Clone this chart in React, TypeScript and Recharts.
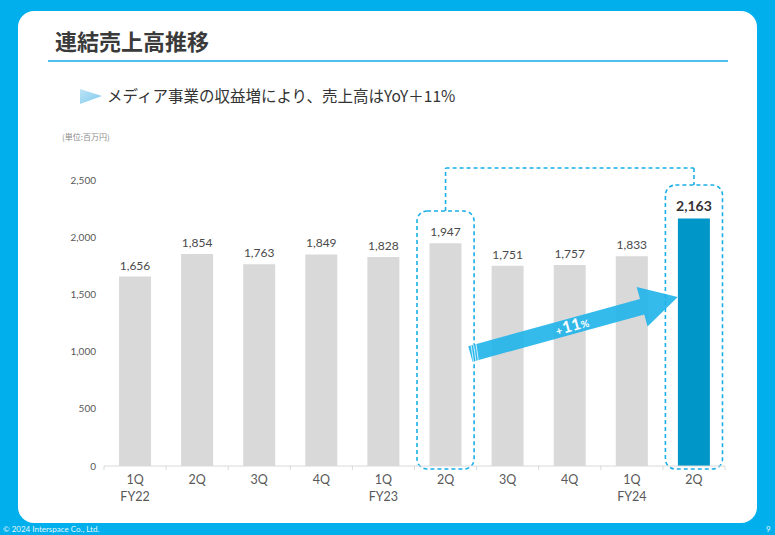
import React from "react";
import {
  BarChart,
  Bar,
  Cell,
  XAxis,
  YAxis,
  LabelList,
  ReferenceArea,
  ReferenceLine,
} from "recharts";

// Quarterly consolidated sales (¥ millions)
const periodKeys = [
  "FY22-1Q", "FY22-2Q", "FY22-3Q", "FY22-4Q",
  "FY23-1Q", "FY23-2Q", "FY23-3Q", "FY23-4Q",
  "FY24-1Q", "FY24-2Q",
];
const quarterLabels = ["1Q", "2Q", "3Q", "4Q", "1Q", "2Q", "3Q", "4Q", "1Q", "2Q"];
const fiscalYearLabels = ["FY22", "", "", "", "FY23", "", "", "", "FY24", ""];
const salesValues = [1656, 1854, 1763, 1849, 1828, 1947, 1751, 1757, 1833, 2163];
const yTicks = [0, 500, 1000, 1500, 2000, 2500];

// YoY comparison: 2Q FY23 -> 2Q FY24
const compareFrom = "FY23-2Q";
const compareTo = "FY24-2Q";
const fromBoxTop = 2229;
const toBoxTop = 2456;
const connectorLevel = 2605;
const arrowStart = 920;
const arrowEnd = 1516;

const data = periodKeys.map((key, i) => ({
  key,
  quarter: quarterLabels[i],
  fy: fiscalYearLabels[i],
  sales: salesValues[i],
}));

const FONT = "Lato, 'Noto Sans CJK JP', sans-serif";
const JP_FONT = "'Noto Sans CJK JP', sans-serif";
const BLUE_BG = "#00AFEB";
const DASH_BLUE = "#1AAFE8";

function QuarterTick(props: any) {
  const { x, y, payload, index } = props;
  const half = payload?.offset ?? 31;
  const item = data[index] ?? data.find((d) => d.key === payload.value);
  return (
    <g>
      <line x1={x - half} y1={y} x2={x - half} y2={y + 4} stroke="#D9D9D9" />
      {index === data.length - 1 && (
        <line x1={x + half} y1={y} x2={x + half} y2={y + 4} stroke="#D9D9D9" />
      )}
      <text x={x} y={y + 18} textAnchor="middle" fontSize={12.5} fill="#595959" fontFamily={FONT}>
        {item?.quarter}
      </text>
      {item?.fy && (
        <text x={x} y={y + 35} textAnchor="middle" fontSize={12.5} fill="#595959" fontFamily={FONT}>
          {item.fy}
        </text>
      )}
    </g>
  );
}

function ValueLabel(props: any) {
  const { x, y, width, value, index } = props;
  const last = index === data.length - 1;
  return (
    <text
      x={x + width / 2}
      y={y - (last ? 8 : 7)}
      textAnchor="middle"
      fontSize={last ? 14 : 12}
      fontWeight={last ? 700 : 400}
      fill={last ? "#333333" : "#4A4A4A"}
      fontFamily={FONT}
    >
      {Number(value).toLocaleString("en-US")}
    </text>
  );
}

function DashedBox(props: any) {
  const { x, y, width, height } = props;
  const inset = 2.5;
  return (
    <rect
      x={x + inset}
      y={y}
      width={width - inset * 2}
      height={height + 3}
      rx={10}
      ry={10}
      fill="none"
      stroke={DASH_BLUE}
      strokeWidth={1.6}
      strokeDasharray="4 3"
    />
  );
}

function GrowthArrow(props: any) {
  const { x1, y1, x2, y2 } = props;
  if ([x1, y1, x2, y2].some((v) => typeof v !== "number")) return null;
  const t0 = 0.1;
  const t1 = 0.935;
  const sx = x1 + (x2 - x1) * t0;
  const sy = y1 + (y2 - y1) * t0;
  const ex = x1 + (x2 - x1) * t1;
  const ey = y1 + (y2 - y1) * t1;
  const len = Math.hypot(ex - sx, ey - sy);
  const ang = (Math.atan2(ey - sy, ex - sx) * 180) / Math.PI;
  const shaft = 8;
  const headLen = 37;
  const headHalf = 20.5;
  const body = len - headLen;
  const path = [
    `M0,${-shaft}`,
    `L${body},${-shaft}`,
    `L${body},${-headHalf}`,
    `L${len},0`,
    `L${body},${headHalf}`,
    `L${body},${shaft}`,
    `L0,${shaft}`,
    "Z",
  ].join(" ");
  return (
    <g transform={`translate(${sx},${sy}) rotate(${ang})`}>
      <path d={path} fill="#1FB2EA" fillOpacity={0.9} />
      <line x1={3} y1={-shaft} x2={1} y2={shaft} stroke="#fff" strokeWidth={0.7} />
      <line x1={5.5} y1={-shaft} x2={3.5} y2={shaft} stroke="#fff" strokeWidth={0.7} />
      <line x1={8} y1={-shaft} x2={6} y2={shaft} stroke="#fff" strokeWidth={0.7} />
      <text
        x={len * 0.49}
        y={5}
        textAnchor="middle"
        fill="#ffffff"
        fontFamily={FONT}
        fontWeight={700}
      >
        <tspan fontSize={11}>+</tspan>
        <tspan fontSize={16} dx={1}>11</tspan>
        <tspan fontSize={10}>%</tspan>
      </text>
    </g>
  );
}

export default function App() {
  return (
    <div
      style={{
        position: "absolute",
        left: 0,
        top: 0,
        width: 775,
        height: 535,
        background: BLUE_BG,
        overflow: "hidden",
        fontFamily: JP_FONT,
      }}
    >
      <div
        style={{
          position: "absolute",
          left: 18,
          top: 11,
          width: 739,
          height: 512,
          background: "#ffffff",
          borderRadius: 16,
        }}
      />
      <div
        style={{
          position: "absolute",
          left: 55,
          top: 25,
          fontSize: 22,
          lineHeight: "30px",
          fontWeight: 700,
          color: "#3A3A3A",
        }}
      >
        連結売上高推移
      </div>
      <div
        style={{ position: "absolute", left: 48, top: 60, width: 680, height: 1.5, background: "#4FC1EE" }}
      />
      <svg style={{ position: "absolute", left: 80, top: 88 }} width={24} height={17}>
        <defs>
          <linearGradient id="triGrad" x1="0" y1="0" x2="1" y2="1">
            <stop offset="0%" stopColor="#BFE4F5" />
            <stop offset="100%" stopColor="#7CC9EE" />
          </linearGradient>
        </defs>
        <polygon points="0,1 22,8 0,16" fill="url(#triGrad)" />
      </svg>
      <div
        style={{
          position: "absolute",
          left: 107,
          top: 84,
          fontSize: 15.5,
          lineHeight: "22px",
          color: "#333333",
        }}
      >
        メディア事業の収益増により、売上高はYoY＋11%
      </div>
      <div style={{ position: "absolute", left: 62, top: 131, fontSize: 8, lineHeight: "12px", color: "#8A8A8A" }}>
        (単位:百万円)
      </div>

      <div style={{ position: "absolute", left: 0, top: 140 }}>
        <BarChart
          width={775}
          height={395}
          data={data}
          margin={{ top: 40, right: 50, bottom: 29, left: 0 }}
          barSize={32}
        >
          <XAxis
            dataKey="key"
            height={40}
            interval={0}
            tickLine={false}
            tickSize={0}
            tickMargin={0}
            axisLine={{ stroke: "#D9D9D9" }}
            tick={<QuarterTick />}
          />
          <YAxis
            width={104}
            domain={[0, 2500]}
            ticks={yTicks}
            axisLine={false}
            tickLine={false}
            tick={{ fontSize: 10, fill: "#595959", fontFamily: FONT }}
            tickFormatter={(v: number) => v.toLocaleString("en-US")}
          />
          <Bar dataKey="sales" isAnimationActive={false}>
            {data.map((d, i) => (
              <Cell key={d.key} fill={i === data.length - 1 ? "#0096C8" : "#D9D9D9"} />
            ))}
            <LabelList dataKey="sales" content={<ValueLabel />} />
          </Bar>
          <ReferenceArea
            x1={compareFrom}
            x2={compareFrom}
            y1={0}
            y2={fromBoxTop}
            ifOverflow="visible"
            shape={<DashedBox />}
          />
          <ReferenceArea
            x1={compareTo}
            x2={compareTo}
            y1={0}
            y2={toBoxTop}
            ifOverflow="visible"
            shape={<DashedBox />}
          />
          <ReferenceLine
            segment={[{ x: compareFrom, y: fromBoxTop }, { x: compareFrom, y: connectorLevel }]}
            ifOverflow="visible"
            stroke={DASH_BLUE}
            strokeWidth={1.6}
            strokeDasharray="4 3"
          />
          <ReferenceLine
            segment={[{ x: compareFrom, y: connectorLevel }, { x: compareTo, y: connectorLevel }]}
            ifOverflow="visible"
            stroke={DASH_BLUE}
            strokeWidth={1.6}
            strokeDasharray="4 3"
          />
          <ReferenceLine
            segment={[{ x: compareTo, y: connectorLevel }, { x: compareTo, y: toBoxTop }]}
            ifOverflow="visible"
            stroke={DASH_BLUE}
            strokeWidth={1.6}
            strokeDasharray="4 3"
          />
          <ReferenceLine
            segment={[{ x: compareFrom, y: arrowStart }, { x: compareTo, y: arrowEnd }]}
            ifOverflow="visible"
            shape={(p: any) => <GrowthArrow {...p} />}
          />
        </BarChart>
      </div>

      <div style={{ position: "absolute", left: 3, top: 524, fontSize: 8, lineHeight: "11px", color: "#E6F7FD", fontFamily: FONT }}>
        © 2024 Interspace Co., Ltd.
      </div>
      <div style={{ position: "absolute", left: 766, top: 524, fontSize: 8, lineHeight: "11px", color: "#E6F7FD", fontFamily: FONT }}>
        9
      </div>
    </div>
  );
}
